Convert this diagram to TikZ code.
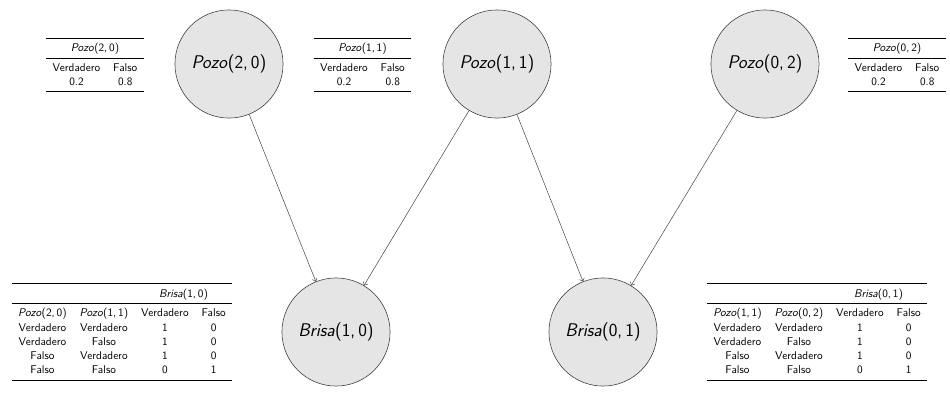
\documentclass[tikz,border=0pt]{standalone}
\usepackage{booktabs}
\usetikzlibrary{arrows.meta}
\renewcommand{\familydefault}{\sfdefault}
\newcommand{\pz}[2]{\textit{Pozo}(#1,\,#2)}
\newcommand{\bz}[2]{\textit{Brisa}(#1,\,#2)}
\begin{document}
\begin{tikzpicture}[x=0.925pt,y=-0.925pt,
  var/.style={circle, draw=black!80, fill=black!10, line width=0.5pt, minimum size=100pt, inner sep=0pt, font=\fontsize{17}{21}\selectfont},
  cpt/.style={inner sep=0pt, font=\fontsize{10.4}{12.5}\selectfont},
  link/.style={-{To[length=3pt,width=5pt]}, draw=black!75, line width=0.45pt}]
\useasboundingbox (0,0) rectangle (950,405);

\node[var] (p20) at (229,64) {\pz{2}{0}};
\node[var] (p11) at (497,64) {\pz{1}{1}};
\node[var] (p02) at (765,64) {\pz{0}{2}};
\node[var] (b10) at (336,332) {\bz{1}{0}};
\node[var] (b01) at (603,332) {\bz{0}{1}};

\draw[link] (p20) -- (b10);
\draw[link] (p11) -- (b10);
\draw[link] (p11) -- (b01);
\draw[link] (p02) -- (b01);

\node[cpt] (t20) at (95,65) {\renewcommand{\arraystretch}{1.05}\begin{tabular}{cc}\toprule
\multicolumn{2}{c}{\pz{2}{0}}\\ \midrule
Verdadero & Falso\\
0.2 & 0.8\\ \bottomrule\end{tabular}};
\node[cpt] (t11) at (362.5,65) {\renewcommand{\arraystretch}{1.05}\begin{tabular}{cc}\toprule
\multicolumn{2}{c}{\pz{1}{1}}\\ \midrule
Verdadero & Falso\\
0.2 & 0.8\\ \bottomrule\end{tabular}};
\node[cpt] (t02) at (897,65) {\renewcommand{\arraystretch}{1.05}\begin{tabular}{cc}\toprule
\multicolumn{2}{c}{\pz{0}{2}}\\ \midrule
Verdadero & Falso\\
0.2 & 0.8\\ \bottomrule\end{tabular}};

\node[cpt] (tb10) at (122,332) {\renewcommand{\arraystretch}{1.05}\begin{tabular}{cccc}\toprule
 & & \multicolumn{2}{c}{\bz{1}{0}}\\ \midrule
\pz{2}{0} & \pz{1}{1} & Verdadero & Falso\\
Verdadero & Verdadero & 1 & 0\\
Verdadero & Falso & 1 & 0\\
Falso & Verdadero & 1 & 0\\
Falso & Falso & 0 & 1\\ \bottomrule\end{tabular}};
\node[cpt] (tb01) at (817,332) {\renewcommand{\arraystretch}{1.05}\begin{tabular}{cccc}\toprule
 & & \multicolumn{2}{c}{\bz{0}{1}}\\ \midrule
\pz{1}{1} & \pz{0}{2} & Verdadero & Falso\\
Verdadero & Verdadero & 1 & 0\\
Verdadero & Falso & 1 & 0\\
Falso & Verdadero & 1 & 0\\
Falso & Falso & 0 & 1\\ \bottomrule\end{tabular}};
\end{tikzpicture}
\end{document}
